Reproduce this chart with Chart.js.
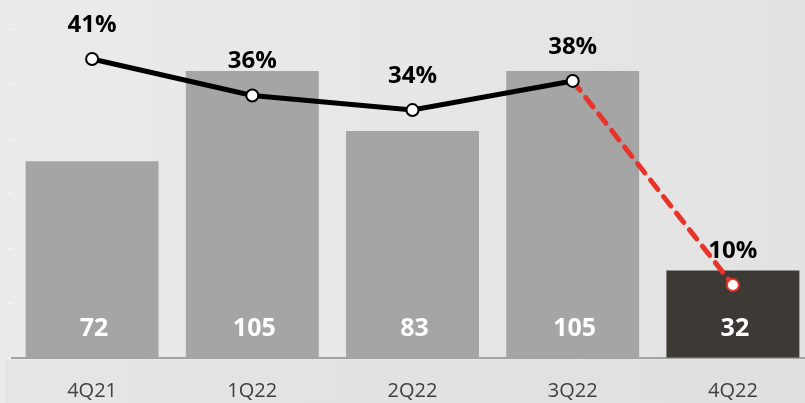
<!DOCTYPE html>
<html>
<head>
<meta charset="utf-8">
<script src="https://cdn.jsdelivr.net/npm/chart.js@4.4.1/dist/chart.umd.min.js"></script>
<style>
  html, body { margin: 0; padding: 0; background: #e6e6e6; overflow: hidden; }
  #wrap { width: 805px; height: 403px; overflow: hidden; position: relative; }
  #box { width: 821px; height: 403px; position: absolute; left: 0; top: 0; }
</style>
</head>
<body>
<div id="wrap"><div id="box"><canvas id="c"></canvas></div></div>
<script>
// Quarterly volumes (bars) and margin percentages (line)
const quarters = ['4Q21', '1Q22', '2Q22', '3Q22', '4Q22'];
const volumes = [72, 105, 83, 105, 32];
const marginPct = [41, 36, 34, 38, 10];
const volumeTicks = [0, 20, 40, 60, 80, 100, 120];

const BAR_GREY = '#a5a5a5';
const BAR_DARK = '#3d3934';
const LINE_RED = '#e8342a';
const LAST = quarters.length - 1;

// Background: light grey panel with a slightly darker band under the axis
const backdrop = {
  id: 'backdrop',
  beforeDraw(chart) {
    const { ctx, width, height, chartArea } = chart;
    ctx.save();
    const g = ctx.createLinearGradient(0, 0, width, 0);
    g.addColorStop(0, '#ebebeb');
    g.addColorStop(1, '#e2e2e2');
    ctx.fillStyle = g;
    ctx.fillRect(0, 0, width, height);
    const b = ctx.createLinearGradient(0, 0, width, 0);
    b.addColorStop(0, '#e5e5e5');
    b.addColorStop(1, '#dfdfdf');
    ctx.fillStyle = b;
    ctx.fillRect(5, chartArea.bottom + 2, width, height - chartArea.bottom);
    ctx.restore();
  }
};

// Value labels: white totals inside the bars, bold percentages above the points
const valueLabels = {
  id: 'valueLabels',
  afterDatasetsDraw(chart) {
    const { ctx } = chart;
    const zeroY = chart.scales.y.getPixelForValue(0);
    ctx.save();
    ctx.textAlign = 'center';
    ctx.textBaseline = 'middle';

    const barMeta = chart.getDatasetMeta(1);
    ctx.fillStyle = '#ffffff';
    ctx.font = 'bold 25px "Open Sans"';
    barMeta.data.forEach((el, i) => {
      ctx.fillText(String(volumes[i]), el.x + 2, zeroY - 29);
    });

    const lineMeta = chart.getDatasetMeta(0);
    ctx.fillStyle = '#000000';
    ctx.font = 'bold 24px "Open Sans"';
    lineMeta.data.forEach((el, i) => {
      ctx.fillText(marginPct[i] + '%', el.x, el.y - 34);
    });
    ctx.restore();
  }
};

new Chart(document.getElementById('c'), {
  data: {
    labels: quarters,
    datasets: [
      {
        type: 'line',
        data: marginPct,
        yAxisID: 'y2',
        order: 0,
        borderColor: '#000000',
        borderWidth: 5,
        borderCapStyle: 'round',
        tension: 0,
        pointRadius: 6,
        pointBorderWidth: 2,
        pointBackgroundColor: '#ffffff',
        pointBorderColor: quarters.map((q, i) => i === LAST ? LINE_RED : '#000000'),
        segment: {
          borderColor: ctx => ctx.p1DataIndex === LAST ? LINE_RED : '#000000',
          borderDash: ctx => ctx.p1DataIndex === LAST ? [12, 9] : []
        }
      },
      {
        type: 'bar',
        data: volumes,
        yAxisID: 'y',
        order: 1,
        backgroundColor: quarters.map((q, i) => i === LAST ? BAR_DARK : BAR_GREY),
        categoryPercentage: 1,
        barPercentage: 0.83
      }
    ]
  },
  options: {
    responsive: true,
    maintainAspectRatio: false,
    animation: false,
    layout: { padding: { top: 2, right: 2, left: 0, bottom: 0 } },
    plugins: {
      legend: { display: false },
      tooltip: { enabled: false }
    },
    scales: {
      x: {
        grid: { display: false, drawTicks: false },
        border: { display: true, color: '#a3a3a3', width: 2 },
        ticks: {
          color: '#404040',
          font: { family: '"Open Sans"', size: 20 },
          padding: 21
        },
        afterFit(scale) { scale.height = 45; }
      },
      y: {
        min: 0,
        max: 128,
        afterBuildTicks(scale) { scale.ticks = volumeTicks.map(v => ({ value: v })); },
        ticks: { display: false },
        grid: { drawOnChartArea: false, drawTicks: true, tickLength: 4, color: '#f7f7f7', lineWidth: 1 },
        border: { display: false },
        afterFit(scale) { scale.width = 12; }
      },
      y2: {
        display: false,
        min: 0,
        max: 48
      }
    }
  },
  plugins: [backdrop, valueLabels]
});
</script>
</body>
</html>
